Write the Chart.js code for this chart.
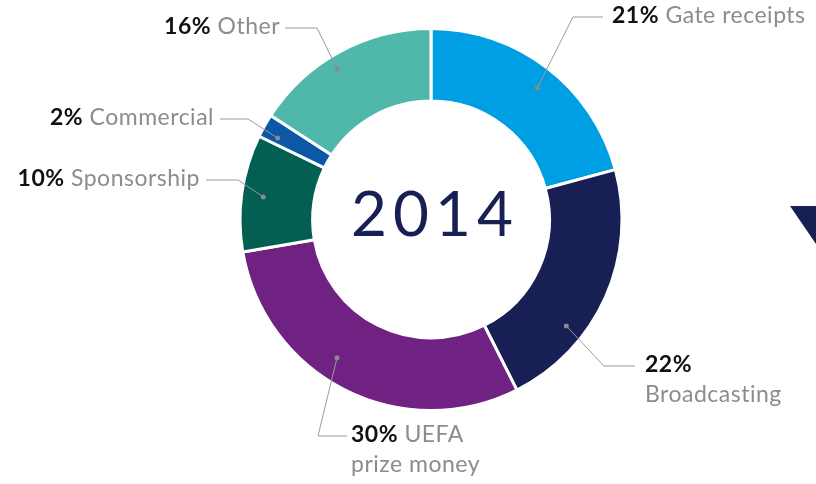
<!DOCTYPE html>
<html>
<head>
<meta charset="utf-8">
<script src="https://cdn.jsdelivr.net/npm/chart.js@4.4.1/dist/chart.umd.min.js"></script>
<style>
    html, body { margin: 0; padding: 0; background: #fff; }
    #wrap { width: 816px; height: 484px; position: relative; }
</style>
</head>
<body>
<div id="wrap"><canvas id="canvas" width="816" height="484"></canvas></div>
<script>
// 收入来源（顺时针，从12点方向开始）
var categories = ["Gate receipts", "Broadcasting", "UEFA prize money", "Sponsorship", "Commercial", "Other"];
var shares = [21, 22, 30, 10, 2, 16];
var sliceColors = ["#009fe3", "#171f55", "#6f2282", "#035f51", "#0a58a6", "#50b8ab"];
var yearLabel = "2014";

// 标注：百分比 + 名称（可分两行）
var labelLines = [
    [["21%", " Gate receipts"]],
    [["22%", ""], ["", "Broadcasting"]],
    [["30%", " UEFA"], ["", "prize money"]],
    [["10%", " Sponsorship"]],
    [["2%", " Commercial"]],
    [["16%", " Other"]]
];

// 引线样式：圆点在扇区内的位置，折点/文字相对圆心的偏移
var leaderStyle = [
    {at: 0.52, r: 0.70, elbow: [142, -203], end: [172, -203], text: [181, -203], align: "left"},
    {at: 0.68, r: 0.74, elbow: [173, 146], end: [204, 146], text: [214, 146], align: "left"},
    {at: 0.57, r: 0.67, elbow: [-113, 216], end: [-84, 216], text: [-80, 216], align: "left"},
    {at: 0.49, r: 0.70, elbow: [-193, -40], end: [-225, -40], text: [-231, -40], align: "right"},
    {at: 0.30, r: 0.76, elbow: [-183, -101], end: [-211, -101], text: [-217, -101], align: "right"},
    {at: 0.44, r: 0.81, elbow: [-114, -192], end: [-146, -192], text: [-151, -192], align: "right"}
];

var FONT = "Lato, sans-serif";
var SIZE = 23;

// 中心年份 + 外侧标注
var calloutPlugin = {
    id: "callouts",
    afterDraw: function (chart) {
        var ctx = chart.ctx;
        var arcs = chart.getDatasetMeta(0).data;
        var cx = arcs[0].x, cy = arcs[0].y;

        ctx.save();
        ctx.fillStyle = "#171f55";
        ctx.font = "400 62px " + FONT;
        ctx.textAlign = "center";
        ctx.textBaseline = "middle";
        ctx.letterSpacing = "6px";
        ctx.fillText(yearLabel, cx + 4, cy - 4);

        arcs.forEach(function (arc, i) {
            var s = leaderStyle[i];
            var a = arc.startAngle + s.at * (arc.endAngle - arc.startAngle);
            var r = arc.innerRadius + s.r * (arc.outerRadius - arc.innerRadius);
            var px = cx + Math.cos(a) * r, py = cy + Math.sin(a) * r;

            ctx.strokeStyle = "#9a9a9a";
            ctx.lineWidth = 1;
            ctx.beginPath();
            ctx.moveTo(px, py);
            ctx.lineTo(cx + s.elbow[0], cy + s.elbow[1] + 0.5);
            ctx.lineTo(cx + s.end[0], cy + s.end[1] + 0.5);
            ctx.stroke();

            ctx.fillStyle = "#8a8a8a";
            ctx.beginPath();
            ctx.arc(px, py, 2.5, 0, Math.PI * 2);
            ctx.fill();

            ctx.textBaseline = "middle";
            ctx.textAlign = "left";
            ctx.letterSpacing = "0.5px";
            labelLines[i].forEach(function (ln, k) {
                var y = cy + s.text[1] + k * 30 - 1;
                ctx.font = "bold " + SIZE + "px " + FONT;
                var w1 = ctx.measureText(ln[0]).width;
                ctx.font = SIZE + "px " + FONT;
                var w2 = ctx.measureText(ln[1]).width;
                var x = cx + s.text[0];
                if (s.align === "right") x -= w1 + w2;
                ctx.font = "bold " + SIZE + "px " + FONT;
                ctx.fillStyle = "#111111";
                ctx.fillText(ln[0], x, y);
                ctx.font = SIZE + "px " + FONT;
                ctx.fillStyle = "#8c8c8c";
                ctx.fillText(ln[1], x + w1, y);
            });
        });

        // 右侧边缘露出的深蓝三角
        ctx.fillStyle = "#171f55";
        ctx.beginPath();
        ctx.moveTo(790, 206);
        ctx.lineTo(816, 206);
        ctx.lineTo(816, 244);
        ctx.closePath();
        ctx.fill();
        ctx.restore();
    }
};

var ctx = document.getElementById("canvas").getContext("2d");
var config = {
    type: "doughnut",
    data: {
        labels: categories,
        datasets: [{
            data: shares,
            backgroundColor: sliceColors,
            borderColor: "#ffffff",
            borderWidth: 3,
            hoverOffset: 0
        }]
    },
    options: {
        responsive: false,
        animation: false,
        cutout: "62%",
        layout: {padding: {left: 238, right: 192, top: 27, bottom: 72}},
        plugins: {
            legend: {display: false},
            tooltip: {enabled: false}
        }
    },
    plugins: [calloutPlugin]
};
var myChart = new Chart(ctx, config);
</script>
</body>
</html>
